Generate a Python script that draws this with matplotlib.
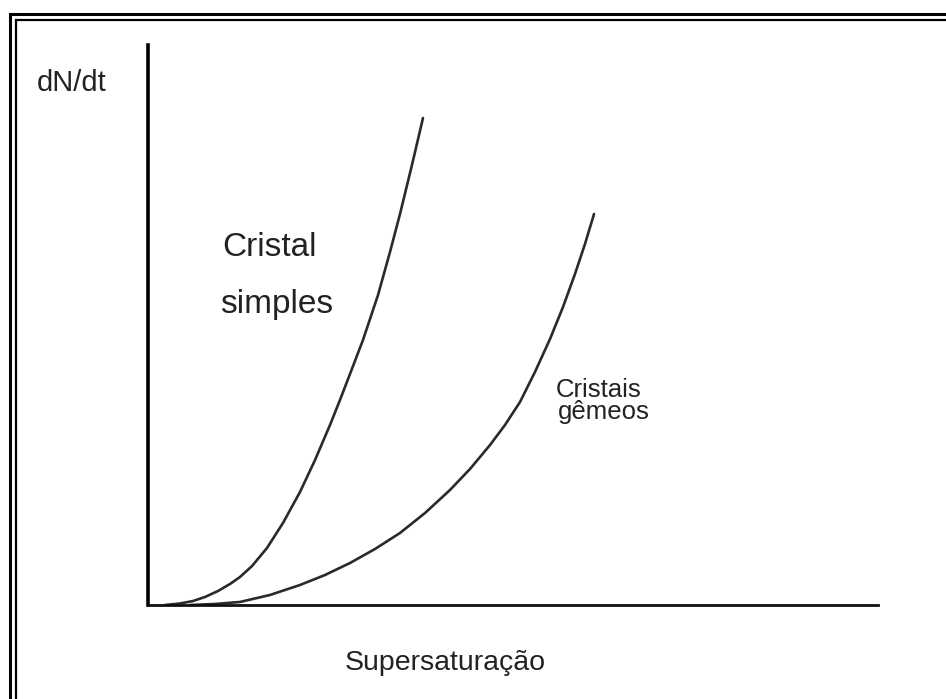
import matplotlib
matplotlib.use("Agg")
import matplotlib.pyplot as plt
from matplotlib.patches import Rectangle

W, H = 946, 699

# Supersaturation (x) and nucleation rate dN/dt (y), arbitrary units 0..10
simples_x = [0.233, 0.438, 0.616, 0.781, 0.959, 1.123, 1.260, 1.425, 1.630,
             1.849, 2.082, 2.288, 2.493, 2.630, 2.767, 2.945, 3.151, 3.315,
             3.452, 3.616, 3.767]
simples_y = [0.000, 0.027, 0.071, 0.143, 0.250, 0.375, 0.500, 0.696, 1.018,
             1.464, 2.018, 2.589, 3.214, 3.661, 4.125, 4.732, 5.536, 6.304,
             6.982, 7.857, 8.696]

gemeos_x = [0.575, 0.918, 1.260, 1.671, 2.082, 2.425, 2.767, 3.110, 3.452,
            3.795, 4.137, 4.411, 4.685, 4.890, 5.096, 5.301, 5.507, 5.685,
            5.849, 5.986, 6.110]
gemeos_y = [0.000, 0.018, 0.054, 0.179, 0.357, 0.536, 0.750, 1.000, 1.286,
            1.643, 2.054, 2.429, 2.857, 3.214, 3.625, 4.161, 4.750, 5.321,
            5.911, 6.446, 6.982]

x_label = "Supersaturação"
y_label = "dN/dt"
label_simples = ["Cristal", "simples"]
label_gemeos = ["Cristais", "gêmeos"]

plt.rcParams["font.family"] = ["Liberation Sans", "DejaVu Sans"]

fig = plt.figure(figsize=(W / 100, H / 100), dpi=100)
fig.patch.set_facecolor("white")


def fx(px):
    return px / W


def fy(py):
    return 1 - py / H


# double frame around the drawing, running off the right and bottom edges
fig.patches.append(Rectangle((fx(10), fy(760)), fx(1000), fy(14) - fy(760),
                             transform=fig.transFigure, fill=False,
                             edgecolor="black", linewidth=2.2))
fig.patches.append(Rectangle((fx(15.5), fy(760)), fx(1000), fy(19.5) - fy(760),
                             transform=fig.transFigure, fill=False,
                             edgecolor="black", linewidth=1.6))

ax_left, ax_right, ax_top, ax_bottom = 148, 878, 45, 605
ax = fig.add_axes([fx(ax_left), fy(ax_bottom),
                   (ax_right - ax_left) / W, (ax_bottom - ax_top) / H])
ax.set_xlim(0, 10)
ax.set_ylim(0, 10)
for side in ("top", "right"):
    ax.spines[side].set_visible(False)
ax.spines["left"].set_linewidth(2.6)
ax.spines["bottom"].set_linewidth(2.0)
ax.spines["left"].set_color("black")
ax.spines["bottom"].set_color("#111111")
ax.set_xticks([])
ax.set_yticks([])
ax.patch.set_alpha(0)

ax.plot(simples_x, simples_y, color="#2a2a2a", linewidth=1.9,
        solid_capstyle="round", solid_joinstyle="round", clip_on=False)
ax.plot(gemeos_x, gemeos_y, color="#2a2a2a", linewidth=1.9,
        solid_capstyle="round", solid_joinstyle="round", clip_on=False)

txt = dict(color="#222222", ha="left", va="baseline")
fig.text(fx(37), fy(91), y_label, fontsize=21, **txt)
fig.text(fx(222), fy(256), label_simples[0], fontsize=24, **txt)
fig.text(fx(220), fy(313), label_simples[1], fontsize=24, **txt)
fig.text(fx(556), fy(397), label_gemeos[0], fontsize=18.5, **txt)
fig.text(fx(558), fy(419), label_gemeos[1], fontsize=18.5, **txt)
fig.text(fx(345), fy(670), x_label, fontsize=20.5, **txt)

fig.savefig("out.png", dpi=100, facecolor="white")
